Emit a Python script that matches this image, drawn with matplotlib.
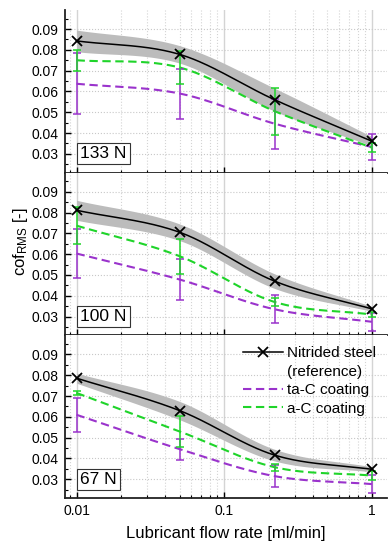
import numpy as np
import matplotlib
matplotlib.use("Agg")
import matplotlib.pyplot as plt
from matplotlib.lines import Line2D
from matplotlib.ticker import MultipleLocator, LogLocator, NullFormatter, FixedLocator, FixedFormatter

plt.rcParams['font.family'] = ['Liberation Sans', 'DejaVu Sans']
plt.rcParams['mathtext.fontset'] = 'custom'
plt.rcParams['mathtext.rm'] = 'Liberation Sans'
plt.rcParams['mathtext.it'] = 'Liberation Sans:italic'

# lubricant flow rate [ml/min]
flow = [0.01, 0.05, 0.22, 1.0]
loads = ['133 N', '100 N', '67 N']

# nitrided steel (reference): mean and std band
nit_133 = [0.0843, 0.0778, 0.0560, 0.0361]
nit_133_sd = [0.0052, 0.0042, 0.0055, 0.0022]
nit_100 = [0.0811, 0.0705, 0.0470, 0.0337]
nit_100_sd = [0.0048, 0.0040, 0.0035, 0.0012]
nit_67 = [0.0786, 0.0630, 0.0416, 0.0348]
nit_67_sd = [0.0024, 0.0044, 0.0028, 0.0012]

# ta-C coating
tac_133 = [0.0637, 0.0590, 0.0445, 0.0333]
tac_133_sd = [0.0147, 0.0120, 0.0120, 0.0064]
tac_100 = [0.0603, 0.0478, 0.0335, 0.0275]
tac_100_sd = [0.0117, 0.0097, 0.0068, 0.0042]
tac_67 = [0.0610, 0.0445, 0.0315, 0.0277]
tac_67_sd = [0.0081, 0.0050, 0.0054, 0.0044]

# a-C coating
ac_133 = [0.0750, 0.0715, 0.0505, 0.0330]
ac_133_sd = [0.0050, 0.0080, 0.0113, 0.0020]
ac_100 = [0.0737, 0.0590, 0.0370, 0.0310]
ac_100_sd = [0.0090, 0.0084, 0.0018, 0.0014]
ac_67 = [0.0715, 0.0530, 0.0358, 0.0318]
ac_67_sd = [0.0008, 0.0076, 0.0017, 0.0020]

PURPLE = '#9a33cc'
GREEN = '#1fd42a'
BAND = '#bcbcbc'
DASH = (0, (4, 2.2))


def smooth(xp, yp, n=200):
    # catmull-rom style cubic connection in log10(x)
    u = np.log10(xp)
    yp = np.asarray(yp, float)
    h = np.diff(u)
    delta = np.diff(yp) / h
    m = np.empty(len(u))
    m[1:-1] = (yp[2:] - yp[:-2]) / (u[2:] - u[:-2])
    m[0] = delta[0]
    m[-1] = delta[-1]
    uu = np.linspace(u[0], u[-1], n)
    idx = np.clip(np.searchsorted(u, uu) - 1, 0, len(u) - 2)
    t = (uu - u[idx]) / h[idx]
    h00 = 2 * t ** 3 - 3 * t ** 2 + 1
    h10 = t ** 3 - 2 * t ** 2 + t
    h01 = -2 * t ** 3 + 3 * t ** 2
    h11 = t ** 3 - t ** 2
    yy = h00 * yp[idx] + h10 * h[idx] * m[idx] + h01 * yp[idx + 1] + h11 * h[idx] * m[idx + 1]
    return 10 ** uu, yy


fig = plt.figure(figsize=(3.92, 5.5), dpi=100)
fig.subplots_adjust(left=0.166, right=0.987, top=0.982, bottom=0.0945, hspace=0)
axes = fig.subplots(3, 1, sharex=True)

panels = [
    (nit_133, nit_133_sd, tac_133, tac_133_sd, ac_133, ac_133_sd),
    (nit_100, nit_100_sd, tac_100, tac_100_sd, ac_100, ac_100_sd),
    (nit_67, nit_67_sd, tac_67, tac_67_sd, ac_67, ac_67_sd),
]

x = np.array(flow)
for ax, load, (nit, nit_sd, tac, tac_sd, ac, ac_sd) in zip(axes, loads, panels):
    nit = np.array(nit); nit_sd = np.array(nit_sd)
    xs, lo = smooth(x, nit - nit_sd)
    xs, hi = smooth(x, nit + nit_sd)
    ax.fill_between(xs, lo, hi, color=BAND, lw=0, zorder=2)

    xs, ys = smooth(x, tac)
    ax.plot(xs, ys, color=PURPLE, lw=1.5, ls=DASH, zorder=3)
    ax.errorbar(x, tac, yerr=tac_sd, fmt='none', ecolor=PURPLE, elinewidth=1.1,
                capsize=3.2, capthick=1.1, zorder=4)

    xs, ys = smooth(x, ac)
    ax.plot(xs, ys, color=GREEN, lw=1.5, ls=DASH, zorder=3)
    ax.errorbar(x, ac, yerr=ac_sd, fmt='none', ecolor=GREEN, elinewidth=1.1,
                capsize=3.2, capthick=1.1, zorder=4)

    xs, ys = smooth(x, nit)
    ax.plot(xs, ys, color='black', lw=1.1, zorder=5)
    ax.plot(x, nit, ls='none', marker='x', ms=7, mew=1.3, color='black', zorder=6)

    ax.set_xscale('log')
    ax.set_xlim(0.00836, 1.265)
    ax.set_ylim(0.021, 0.0992)
    ax.yaxis.set_major_locator(FixedLocator([0.03, 0.04, 0.05, 0.06, 0.07, 0.08, 0.09]))
    ax.yaxis.set_major_formatter(FixedFormatter(['0.03', '0.04', '0.05', '0.06', '0.07', '0.08', '0.09']))
    ax.yaxis.set_minor_locator(MultipleLocator(0.005))
    ax.xaxis.set_major_locator(FixedLocator([0.01, 0.1, 1]))
    ax.xaxis.set_major_formatter(FixedFormatter(['0.01', '0.1', '1']))
    ax.xaxis.set_minor_locator(LogLocator(base=10, subs=np.arange(2, 10), numticks=10))
    ax.xaxis.set_minor_formatter(NullFormatter())

    ax.grid(True, which='major', axis='x', color='#d4d4d4', lw=1.0, ls='-', zorder=0)
    ax.grid(True, which='minor', axis='x', color='#d4d4d4', lw=0.8, ls=':', zorder=0)
    ax.grid(True, which='major', axis='y', color='#c8c8c8', lw=0.8, ls=':', zorder=0)
    ax.set_axisbelow(True)

    ax.tick_params(which='major', direction='in', length=4, width=1.0, labelsize=10, pad=5)
    ax.tick_params(which='minor', direction='in', length=2.5, width=0.8)
    ax.tick_params(axis='x', which='major', pad=4)
    for s in ['top', 'right']:
        ax.spines[s].set_visible(False)
    for s in ['left', 'bottom']:
        ax.spines[s].set_linewidth(1.3)
        ax.spines[s].set_color('#222222')

    ax.text(0.047, 0.07, load, transform=ax.transAxes, fontsize=12.5, ha='left', va='bottom',
            bbox=dict(boxstyle='square,pad=0.18', fc='white', ec='#333333', lw=0.8), zorder=10)

for ax in axes[:-1]:
    ax.tick_params(axis='x', labelbottom=False)

axes[-1].set_xlabel('Lubricant flow rate [ml/min]', fontsize=12, labelpad=6)
fig.text(0.052, 0.56, r'cof$_{\mathrm{RMS}}$ [-]', rotation=90, fontsize=12, ha='center', va='center')

handles = [
    Line2D([], [], color='black', lw=1.1, marker='x', ms=7, mew=1.3),
    Line2D([], [], color='none'),
    Line2D([], [], color=PURPLE, lw=1.5, ls=DASH),
    Line2D([], [], color=GREEN, lw=1.5, ls=DASH),
]
labels = ['Nitrided steel', '(reference)', 'ta-C coating', 'a-C coating']
axes[-1].legend(handles, labels, loc='upper right', frameon=False, fontsize=11,
                handlelength=2.6, handletextpad=0.3, labelspacing=0.3,
                borderaxespad=0.3, bbox_to_anchor=(1.0, 1.0))

plt.savefig('out.png', dpi=100)
